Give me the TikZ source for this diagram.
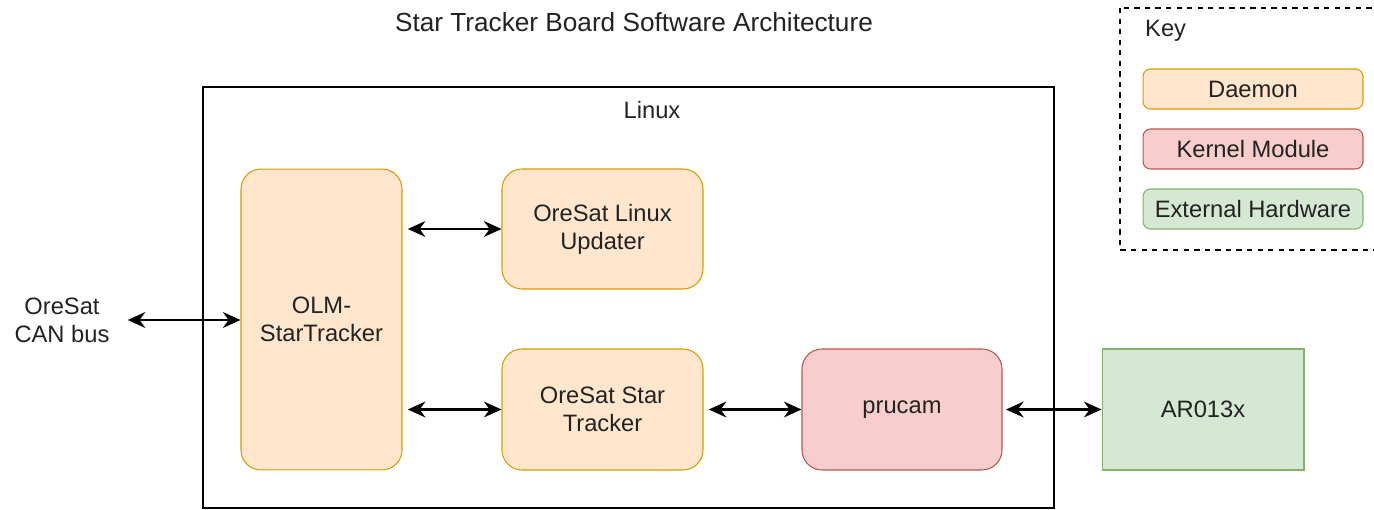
\documentclass[tikz,border=0pt]{standalone}
\usepackage{fontspec}
\setmainfont{Liberation Sans}
\usetikzlibrary{arrows.meta}

\definecolor{daemonfill}{HTML}{FFE6CC}
\definecolor{daemonline}{HTML}{D79B00}
\definecolor{kernelfill}{HTML}{F8CECC}
\definecolor{kernelline}{HTML}{B85450}
\definecolor{hwfill}{HTML}{D5E8D4}
\definecolor{hwline}{HTML}{82B366}
\definecolor{txt}{HTML}{222222}

\begin{document}
\begin{tikzpicture}[x=0.02cm,y=-0.02cm,
    font=\fontsize{13.5}{16}\selectfont, text=txt,
    block/.style={draw, line width=0.6pt, align=center, inner sep=2pt},
    daemon/.style={block, fill=daemonfill, draw=daemonline, rounded corners=0.4cm},
    kernel/.style={block, fill=kernelfill, draw=kernelline, rounded corners=0.4cm},
    hardware/.style={block, fill=hwfill, draw=hwline},
    keyitem/.style={minimum width=4.4cm, minimum height=0.8cm, rounded corners=0.15cm},
    link/.style={{Stealth[length=10pt,width=9pt]}-{Stealth[length=10pt,width=9pt]}, line width=1.2pt}]
  \useasboundingbox (0,0) rectangle (1374,510);

  % title and outer frame
  \node[font=\fontsize{14.9}{18}\selectfont] (title) at (634,22) {Star Tracker Board Software Architecture};
  \draw[line width=0.8pt] (203,87) rectangle (1054,508);
  \node (linux) at (652,110) {Linux};

  % blocks
  \node[daemon, minimum width=3.22cm, minimum height=6.02cm] (olm) at (321.5,319.5) {OLM-\\StarTracker};
  \node[daemon, minimum width=4.02cm, minimum height=2.4cm] (updater) at (602.5,229) {OreSat Linux\\Updater};
  \node[daemon, minimum width=4.02cm, minimum height=2.42cm] (tracker) at (602.5,409.5) {OreSat Star\\Tracker};
  \node[kernel, minimum width=4.0cm, minimum height=2.42cm] (prucam) at (902,409.5) {prucam};
  \node[hardware, minimum width=4.04cm, minimum height=2.42cm] (ar) at (1203,409.5) {AR013x};
  \node[align=center] (can) at (62,320) {OreSat\\CAN bus};

  % connectors
  \draw[link] (can.east) ++(12,0) coordinate (canend) -- (olm.west |- canend);
  \draw[link] ([xshift=3pt]olm.east |- updater.west) -- (updater.west);
  \draw[link] ([xshift=3pt]olm.east |- tracker.west) -- (tracker.west);
  \draw[link] ([xshift=3pt]tracker.east) -- (prucam.west);
  \draw[link] ([xshift=2pt]prucam.east) -- (ar.west);

  % key
  \draw[dashed, line width=0.8pt] (1120,8) rectangle (1378,250);
  \node[anchor=west] (key) at (1139,31) {Key};
  \node[daemon, keyitem] (kd) at (1253,89) {Daemon};
  \node[kernel, keyitem] (kk) at (1253,149) {Kernel Module};
  \node[hardware, keyitem] (kh) at (1253,209) {External Hardware};
\end{tikzpicture}
\end{document}
